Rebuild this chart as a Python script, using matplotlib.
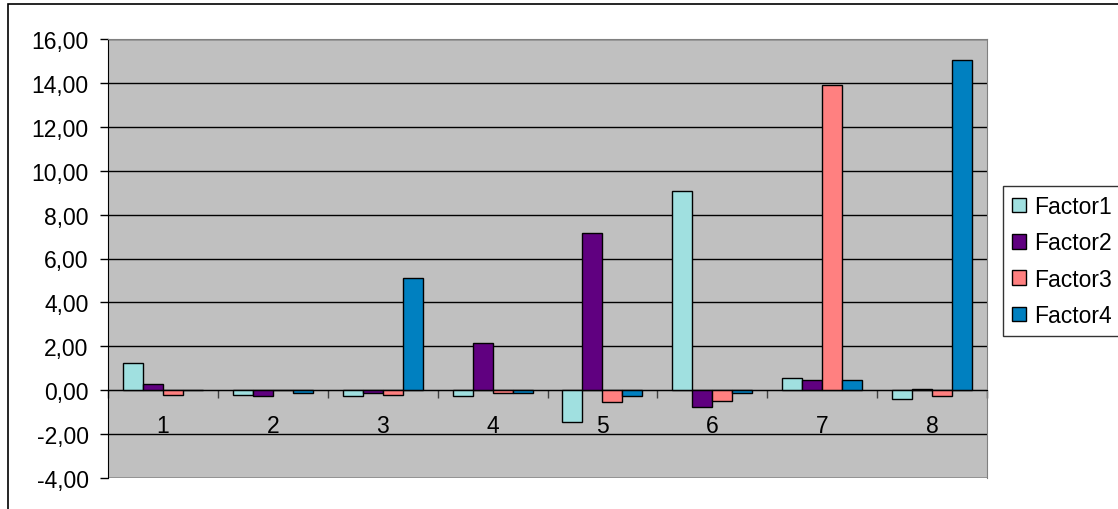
import numpy as np
import matplotlib.pyplot as plt
from matplotlib.patches import Patch, Rectangle
from matplotlib.ticker import FuncFormatter

plt.rcParams["font.family"] = ["Liberation Sans", "DejaVu Sans"]

# Values per group (1..8) for each factor
categories = ["1", "2", "3", "4", "5", "6", "7", "8"]
factor1 = [1.24, -0.20, -0.27, -0.27, -1.45, 9.09, 0.56, -0.42]
factor2 = [0.29, -0.27, -0.12, 2.14, 7.16, -0.78, 0.48, 0.07]
factor3 = [-0.21, 0.00, -0.21, -0.12, -0.54, -0.48, 13.92, -0.28]
factor4 = [0.00, -0.14, 5.11, -0.14, -0.28, -0.13, 0.48, 15.03]
series_names = ["Factor1", "Factor2", "Factor3", "Factor4"]
colors = ["#A0E0E0", "#600080", "#FF8080", "#0080C0"]

FS = 16.5

fig = plt.figure(figsize=(11.18, 5.1), dpi=100)
ax = fig.add_axes([108 / 1118, 1 - 479 / 510, (987 - 108) / 1118, (479 - 40) / 510])
ax.set_facecolor("#C0C0C0")

x = np.arange(1, len(categories) + 1)
bw = 1 / 5.5  # gap width 150%
series = [factor1, factor2, factor3, factor4]
for i, (vals, col) in enumerate(zip(series, colors)):
    ax.bar(x + (i - 1.5) * bw, vals, width=bw, color=col,
           edgecolor="black", linewidth=1.0, zorder=3)

ax.set_xlim(0.5, 8.5)
ax.set_ylim(-4, 16)
ax.set_yticks(np.arange(-4, 17, 2))
ax.yaxis.set_major_formatter(FuncFormatter(lambda v, p: f"{v:.2f}".replace(".", ",")))
ax.grid(axis="y", color="black", linewidth=1.0, zorder=1)
ax.tick_params(axis="y", direction="out", length=6, width=1, labelsize=FS, pad=8)

# category axis runs along zero, labels sit under it
ax.spines["bottom"].set_position(("data", 0))
ax.spines["bottom"].set_zorder(4)
ax.set_xticks(np.arange(0.5, 8.6, 1))
ax.set_xticklabels([])
ax.set_xticks(x, minor=True)
ax.set_xticklabels(categories, minor=True)
ax.tick_params(axis="x", which="major", direction="out", length=6, width=1, color="#404040")
ax.tick_params(axis="x", which="minor", length=0, labelsize=FS, pad=17)

for side in ["top", "right"]:
    ax.spines[side].set_color("#808080")
ax.spines["left"].set_color("black")
ax.axhline(-4, color="#808080", linewidth=1.0, zorder=2)

handles = [Patch(facecolor=c, edgecolor="black", label=n) for c, n in zip(colors, series_names)]
leg = fig.legend(handles=handles, loc="upper left",
                 bbox_to_anchor=(1003 / 1118, 1 - 187 / 510), frameon=True,
                 fancybox=False, edgecolor="black", fontsize=FS,
                 handlelength=0.6, handleheight=0.6, handletextpad=0.35,
                 labelspacing=0.58, borderpad=0.4, borderaxespad=0)
leg.get_frame().set_linewidth(1.0)

# outer chart border
fig.patches.append(Rectangle((8 / 1118, -0.1), 1.2, 1 - 5 / 510 + 0.1,
                             transform=fig.transFigure, fill=False,
                             edgecolor="black", linewidth=1.2))

fig.savefig("out.png", dpi=100)
